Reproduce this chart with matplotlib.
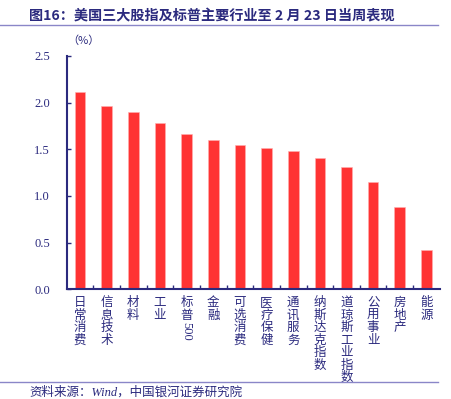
import numpy as np
import matplotlib
matplotlib.use("Agg")
import matplotlib.pyplot as plt
from matplotlib.ticker import FixedLocator

plt.rcParams['font.family'] = ['Noto Sans CJK SC', 'DejaVu Sans']

CATEGORIES = ["日常消费", "信息技术", "材料", "工业", "标普500", "金融", "可选消费",
              "医疗保健", "通讯服务", "纳斯达克指数", "道琼斯工业指数", "公用事业",
              "房地产", "能源"]
VALUES = [2.11, 1.96, 1.90, 1.78, 1.66, 1.60, 1.545, 1.515, 1.485, 1.405,
          1.305, 1.15, 0.88, 0.42]
Y_TICKS = [0.0, 0.5, 1.0, 1.5, 2.0, 2.5]

TITLE = "图16：美国三大股指及标普主要行业至 2 月 23 日当周表现"
SOURCE = "资料来源：Wind，中国银河证券研究院"

NAVY = "#2b2a7e"
RED = "#ff3333"
LINE = "#8a86c8"


def vertical(label):
    # stack CJK chars; ascii runs are drawn rotated underneath
    cjk = "".join(c for c in label if not c.isascii())
    asc = "".join(c for c in label if c.isascii())
    return "\n".join(cjk), asc


fig = plt.figure(figsize=(4.51, 3.99), dpi=100)
ax = fig.add_axes([0.148, 0.275, 0.827, 0.585])

x = np.arange(len(CATEGORIES))
ax.bar(x, VALUES, width=0.4, color=RED, edgecolor="#ffb0b0", linewidth=0.4)

ax.set_xlim(-0.5, len(CATEGORIES) - 0.5)
ax.set_ylim(0, 2.5)
ax.set_yticks(Y_TICKS)
ax.set_yticklabels([f"{v:.1f}" for v in Y_TICKS], fontfamily="Liberation Serif",
                   fontsize=9, color=NAVY)

ax.set_xticks(x)
ax.set_xticklabels([vertical(c)[0] for c in CATEGORIES], fontsize=9, color=NAVY,
                   linespacing=0.95, va="top")
ax.xaxis.set_minor_locator(FixedLocator(x[1:] - 0.5))
ax.tick_params(axis="x", which="major", length=0, pad=5)
ax.tick_params(axis="x", which="minor", direction="in", length=3, color=NAVY, width=1)
ax.tick_params(axis="y", direction="in", length=3, color=NAVY, width=1, pad=12)

for i, c in enumerate(CATEGORIES):
    cjk, asc = vertical(c)
    if asc:
        n = len(cjk.split("\n"))
        ax.annotate(asc, (i, 0), xycoords="data", textcoords="offset pixels",
                    xytext=(0, -7 - 13 * n), rotation=-90,
                    fontfamily="Liberation Serif", fontsize=9, color=NAVY,
                    ha="center", va="top")

for s in ["top", "right"]:
    ax.spines[s].set_visible(False)
for s in ["left", "bottom"]:
    ax.spines[s].set_color(NAVY)
    ax.spines[s].set_linewidth(1.5)

fig.text(67 / 451, 1 - 41 / 399, "（%）", fontsize=8, color=NAVY, va="center")

fig.text(29 / 451, 1 - 16 / 399, TITLE, fontsize=10.2, fontweight="bold", color=NAVY,
         va="center")
fig.add_artist(plt.Line2D([0, 438 / 451], [1 - 25 / 399] * 2, color=LINE, lw=1))
fig.add_artist(plt.Line2D([0, 438 / 451], [1 - 382 / 399] * 2, color=LINE, lw=1))
fig.text(29 / 451, 1 - 392 / 399, SOURCE, fontsize=9, style="italic", color=NAVY,
         va="center", family=["Liberation Serif", "Noto Sans CJK SC"])

fig.savefig("out.png", dpi=100)
